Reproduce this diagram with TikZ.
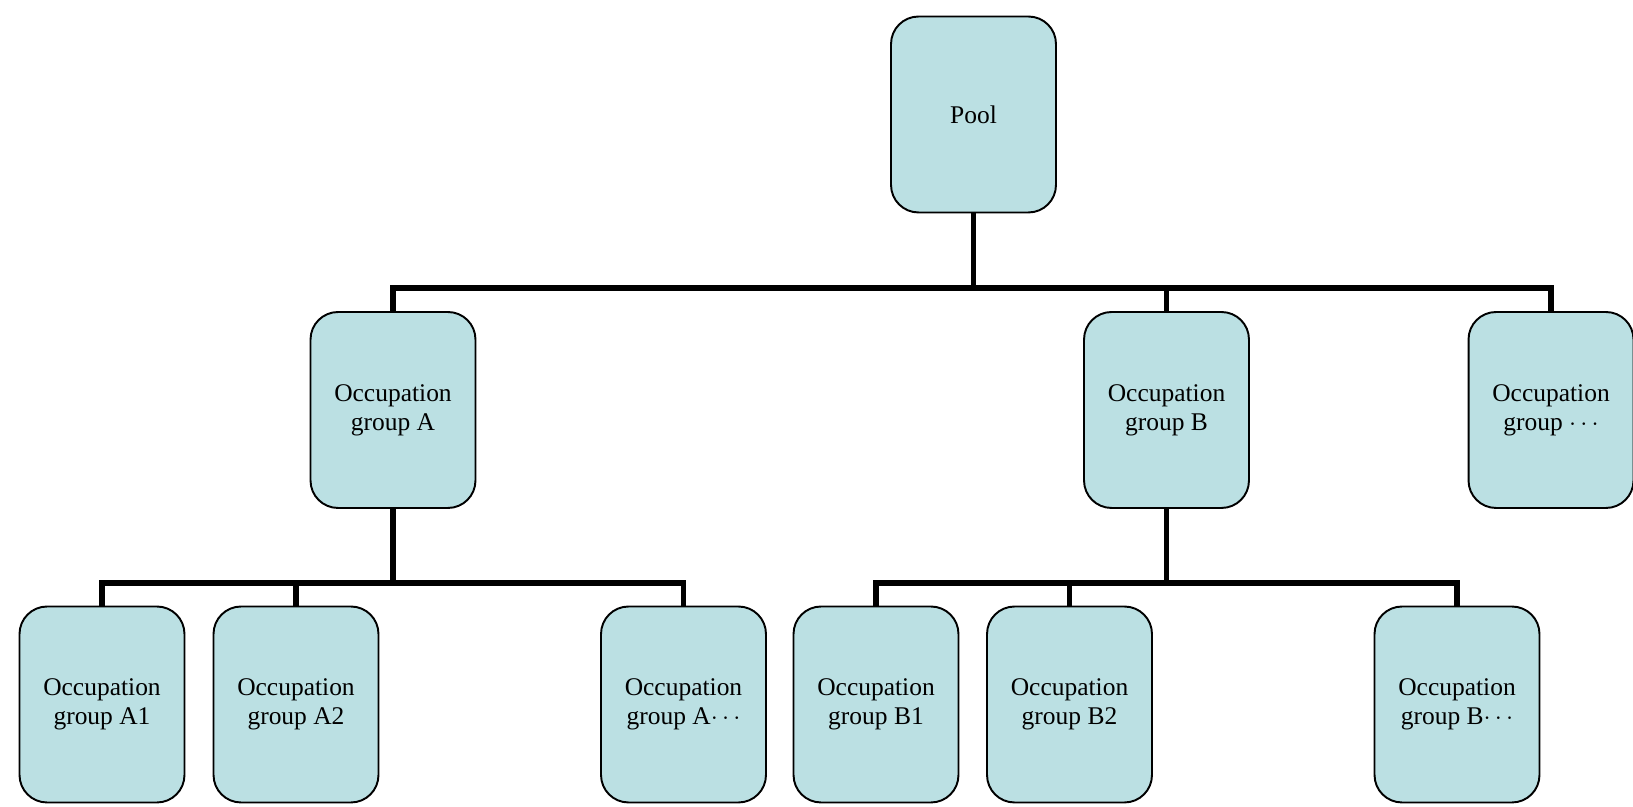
\documentclass[tikz,border=0pt]{standalone}
\usepackage{fontspec}
\setmainfont{Liberation Serif}
\definecolor{boxfill}{RGB}{187,224,227}
\begin{document}
\begin{tikzpicture}[x=0.02cm,y=0.02cm,
		grp/.style={draw=black,line width=1.1pt,fill=boxfill,rounded corners=0.55cm,
			minimum width=3.3cm,minimum height=3.92cm,inner sep=0pt,align=center,
			font=\fontsize{14.5}{16.5}\selectfont},
		link/.style={line width=2.9pt}]
		\useasboundingbox (0,0) rectangle (1633,807);

		\coordinate (busT) at (0,519);
		\coordinate (busA) at (0,224);
		\coordinate (busB) at (0,224);

		% top
		\node[grp] (pool) at (973.5,692.5) {Pool};

		% middle row
		\node[grp] (grpA) at (393,397) {Occupation\\group A};
		\node[grp] (grpB) at (1166.5,397) {Occupation\\group B};
		\node[grp] (grpX) at (1551,397) {Occupation\\group $\cdots$};

		% bottom row
		\node[grp] (grpAa) at (102,102.5) {Occupation\\group A1};
		\node[grp] (grpAb) at (296,102.5) {Occupation\\group A2};
		\node[grp] (grpAx) at (683.5,102.5) {Occupation\\group A$\cdots$};
		\node[grp] (grpBa) at (876,102.5) {Occupation\\group B1};
		\node[grp] (grpBb) at (1069.5,102.5) {Occupation\\group B2};
		\node[grp] (grpBx) at (1457,102.5) {Occupation\\group B$\cdots$};

		\foreach \c in {grpA,grpB,grpX}
			\draw[link] (pool.south) |- (\c.north |- busT) -- (\c.north);
		\foreach \c in {grpAa,grpAb,grpAx}
			\draw[link] (grpA.south) |- (\c.north |- busA) -- (\c.north);
		\foreach \c in {grpBa,grpBb,grpBx}
			\draw[link] (grpB.south) |- (\c.north |- busB) -- (\c.north);
\end{tikzpicture}
\end{document}
